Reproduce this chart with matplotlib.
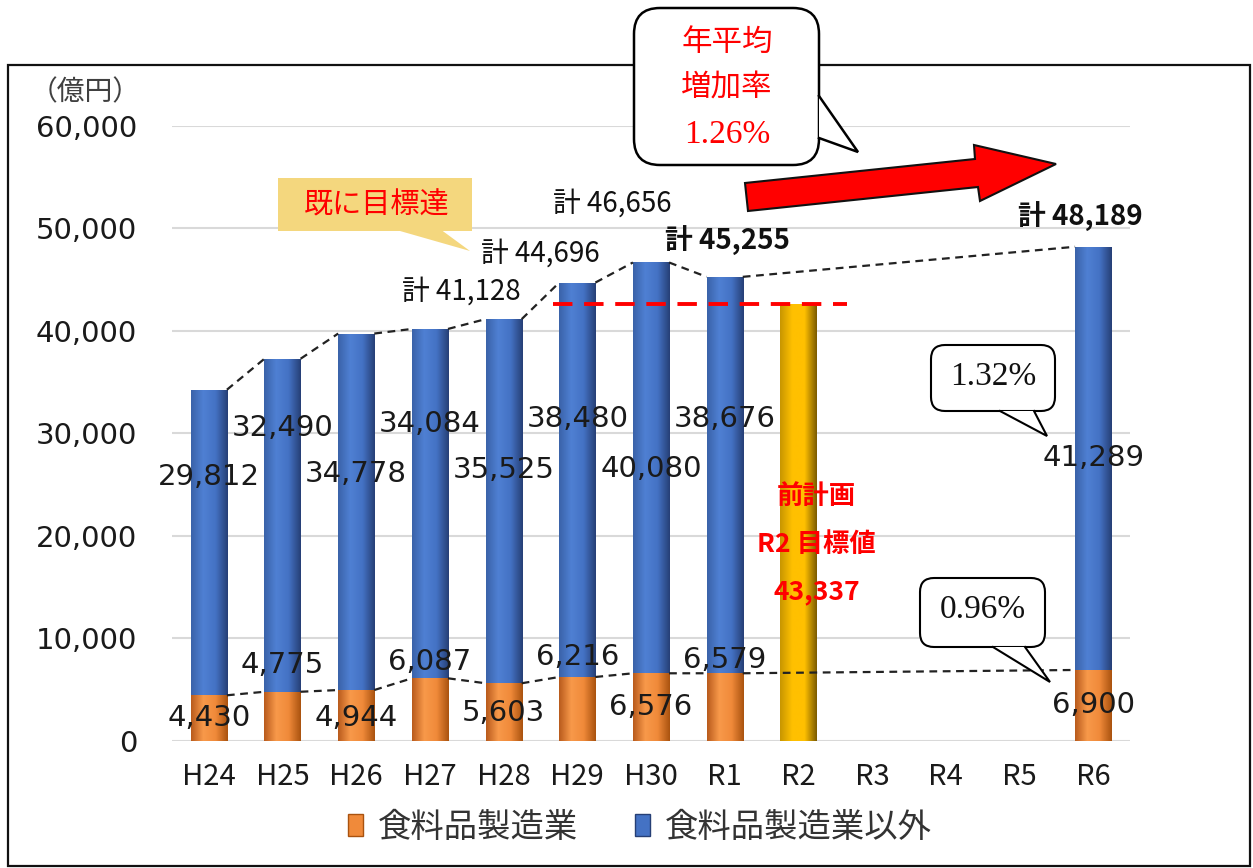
import matplotlib
matplotlib.use('Agg')
import matplotlib.pyplot as plt
import numpy as np
from matplotlib.patches import Rectangle, FancyBboxPatch, Polygon, Patch
from matplotlib.lines import Line2D
from matplotlib.transforms import IdentityTransform
from matplotlib.colors import LinearSegmentedColormap

plt.rcParams['font.family'] = ['DejaVu Sans', 'Noto Sans CJK JP']

# ---------------- data ----------------
categories = ['H24', 'H25', 'H26', 'H27', 'H28', 'H29', 'H30', 'R1', 'R2', 'R3', 'R4', 'R5', 'R6']
actual_idx = [0, 1, 2, 3, 4, 5, 6, 7, 12]
food = [4430, 4775, 4944, 6087, 5603, 6216, 6576, 6579, 6900]
other = [29812, 32490, 34778, 34084, 35525, 38480, 40080, 38676, 41289]
total_labeled = [4, 5, 6, 7, 8]          # positions within actual_idx that get a 計 label
total_bold = [7, 8]
r2_idx = 8
r2_target_text = '43,337'
r2_target_drawn = 42600                    # height of the gold bar as drawn
rate_total = '1.32%'
rate_food = '0.96%'
rate_avg = '1.26%'
legend_labels = ['食料品製造業', '食料品製造業以外']

# ---------------- layout (label positions, data coords) ----------------
other_label_y = [25740, 30520, 26030, 30920, 26420, 31400, 26520, 31400, 27600]
food_label_y = [2220, 7390, 2220, 7680, 2700, 8170, 3290, 7880, 3490]
total_label_xy = {4: (3.43, 43790), 5: (4.5, 47500), 6: (5.48, 52380), 7: (7.04, 48770), 8: (11.82, 51100)}

W, H = 1253, 868
fig = plt.figure(figsize=(W / 100, H / 100), dpi=100)
ax = fig.add_axes([172 / W, 1 - 740.7 / H, (1130 - 172) / W, (740.7 - 125.7) / H])

BW = 0.49
c_food = ['#B85A1C', '#F8994A', '#F08A3A', '#A9520F']
c_other = ['#3A62A8', '#4F80D3', '#4472C4', '#263F75']
c_gold = ['#C79500', '#FFC000', '#FFC000', '#7A5A00']

def grad_fill(patch, colors, z):
    x0, y0 = patch.get_x(), patch.get_y()
    w, h = patch.get_width(), patch.get_height()
    cmap = LinearSegmentedColormap.from_list('g', colors)
    g = np.linspace(0, 1, 256).reshape(1, -1)
    im = ax.imshow(g, extent=[x0, x0 + w, y0, y0 + h], cmap=cmap, aspect='auto',
                   zorder=z, interpolation='bilinear')
    im.set_clip_path(patch)

bars_food = ax.bar(actual_idx, food, width=BW, color=c_food[2], zorder=2)
bars_other = ax.bar(actual_idx, other, bottom=food, width=BW, color=c_other[2], zorder=2)
bar_gold = ax.bar([r2_idx], [r2_target_drawn], width=BW, color=c_gold[1], zorder=2)
for p in bars_food:
    grad_fill(p, c_food, 2.1)
for p in bars_other:
    grad_fill(p, c_other, 2.1)
for p in bar_gold:
    grad_fill(p, c_gold, 2.1)

totals = [f + o for f, o in zip(food, other)]

# series lines (connect bar edges)
def series_line(vals):
    for i in range(len(actual_idx) - 1):
        xa = actual_idx[i] + BW / 2
        xb = actual_idx[i + 1] - BW / 2
        ax.plot([xa, xb], [vals[i], vals[i + 1]], color='#222222', lw=1.6,
                linestyle=(0, (3.5, 2.5)), zorder=3)

series_line(totals)
series_line(food)

# red dashed target line
ax.hlines(r2_target_drawn, 4.67, 8.66, colors='#FF0000', lw=2.8,
          linestyles=[(0, (5, 3))], zorder=3)

# value labels
for k, i in enumerate(actual_idx):
    ax.text(i, other_label_y[k], f'{other[k]:,}', ha='center', va='center', fontsize=21,
            color='#1a1a1a', zorder=4)
    ax.text(i, food_label_y[k], f'{food[k]:,}', ha='center', va='center', fontsize=21,
            color='#1a1a1a', zorder=4)
for k in total_labeled:
    x, y = total_label_xy[k]
    ax.text(x, y, f'計 {totals[k]:,}', ha='center', va='center', fontsize=20,
            family=['Noto Sans CJK JP', 'DejaVu Sans'],
            fontweight='bold' if k in total_bold else 'normal', color='#111111', zorder=4)

# R2 target text
for txt, y in [('前計画', 23790), ('R2 目標値', 19100), (r2_target_text, 14510)]:
    ax.text(8.25, y, txt, ha='center', va='center', fontsize=19, fontweight='bold',
            color='#FF0000', family=['Noto Sans CJK JP', 'DejaVu Sans'], zorder=4)

# axes styling
ax.set_xlim(-0.5, 12.5)
ax.set_ylim(0, 60000)
ax.set_yticks(range(0, 60001, 10000))
ax.set_yticklabels([f'{v:,}' for v in range(0, 60001, 10000)], fontsize=21, color='#1a1a1a')
ax.set_xticks(range(len(categories)))
ax.set_xticklabels(categories, fontsize=21, family=['Noto Sans CJK JP'], color='#1a1a1a')
ax.tick_params(axis='both', length=0)
ax.tick_params(axis='y', pad=25)
ax.tick_params(axis='x', pad=15)
ax.yaxis.grid(True, color='#D9D9D9', lw=1.5)
ax.set_axisbelow(True)
for s in ax.spines.values():
    s.set_visible(False)

# legend
handles = [Patch(facecolor=c_food[2], edgecolor=c_food[3]),
           Patch(facecolor=c_other[2], edgecolor=c_other[3])]
fig.legend(handles, legend_labels, loc='center', bbox_to_anchor=(640 / W, 1 - 827 / H),
           ncol=2, frameon=False, prop={'family': 'Noto Sans CJK JP', 'size': 24},
           handlelength=0.45, handleheight=0.65, handletextpad=0.45, columnspacing=1.7,
           labelcolor='#333333')

# ---------------- pixel-space decorations ----------------
I = IdentityTransform()
def P(x, y):
    return (x, H - y)

TZ = 8

# outer frame
fig.add_artist(Rectangle(P(8, 866), 1242, 866 - 65, fill=False, edgecolor='#111111',
                         lw=1.6, transform=I, zorder=1))

fig.text(*P(85, 92), '（億円）', transform=I, ha='center', va='center', fontsize=20,
         family=['Noto Sans CJK JP'], color='#404040', zorder=TZ)

def callout(x0, y0, x1, y1, tail, fc='white', ec='black', lw=1.5, r=14, z=5):
    bx, by = P(x0, y1)
    box = FancyBboxPatch((bx, by), x1 - x0, y1 - y0,
                         boxstyle=f'round,pad=0,rounding_size={r}', facecolor=fc,
                         edgecolor=ec if ec else 'none', lw=lw, transform=I, zorder=z)
    fig.add_artist(box)
    pts = [P(*t) for t in tail]
    fig.add_artist(Polygon(pts, closed=True, facecolor=fc, edgecolor='none',
                           transform=I, zorder=z + 0.1))
    if ec:
        fig.add_artist(Line2D([p[0] for p in pts], [p[1] for p in pts], color=ec, lw=lw,
                              transform=I, zorder=z + 0.2, solid_joinstyle='miter'))

# 既に目標達 callout
callout(278, 178, 472, 231, [(393, 229), (470, 251), (440, 229)], fc='#F4D77E', ec=None, r=0)
fig.text(*P(377, 205), '既に目標達', transform=I, ha='center', va='center', fontsize=21,
         family=['Noto Sans CJK JP'], color='#FF0000', zorder=TZ)

# 年平均 増加率 callout
callout(634, 8, 819, 165, [(819, 96), (858, 152), (819, 138)], r=26, lw=1.8)
fig.text(*P(727, 42), '年平均', transform=I, ha='center', va='center', fontsize=22,
         family=['Noto Sans CJK JP'], color='#FF0000', zorder=TZ)
fig.text(*P(727, 88), '増加率', transform=I, ha='center', va='center', fontsize=22,
         family=['Noto Sans CJK JP'], color='#FF0000', zorder=TZ)
fig.text(*P(727, 135), rate_avg, transform=I, ha='center', va='center', fontsize=24,
         family=['Liberation Serif'], color='#FF0000', zorder=TZ)

# 1.32% and 0.96% callouts
callout(931, 345, 1055, 411, [(1000, 411), (1047, 436), (1034, 411)], r=14, lw=1.5)
fig.text(*P(993, 377), rate_total, transform=I, ha='center', va='center', fontsize=24,
         family=['Liberation Serif'], color='#111111', zorder=TZ)
callout(920, 578, 1045, 647, [(993, 647), (1050, 682), (1025, 647)], r=14, lw=1.5)
fig.text(*P(983, 610), rate_food, transform=I, ha='center', va='center', fontsize=24,
         family=['Liberation Serif'], color='#111111', zorder=TZ)

# red block arrow
arrow_pts = [P(745, 183), P(975, 159), P(974, 145), P(1056, 164), P(980, 201), P(978, 187), P(748, 211)]
fig.add_artist(Polygon(arrow_pts, closed=True, facecolor='#FF0000', edgecolor='#111111',
                       lw=1.5, transform=I, zorder=5, joinstyle='miter'))

fig.savefig('out.png', dpi=100)
